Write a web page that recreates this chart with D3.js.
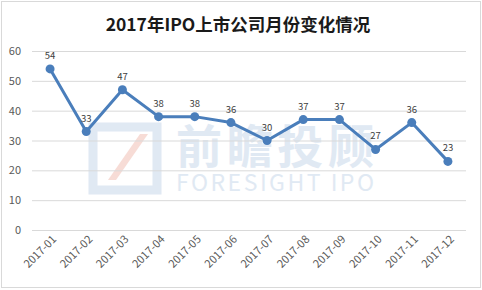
<!DOCTYPE html>
<html lang="zh">
<head>
<meta charset="UTF-8">
<script src="https://d3js.org/d3.v7.min.js"></script>
<style>
  body { margin: 0; background: #fff; }
  text { font-family: "Noto Sans CJK SC", "Open Sans", sans-serif; }
</style>
</head>
<body>
<svg width="482" height="290"></svg>
<script>
const months = ["2017-01","2017-02","2017-03","2017-04","2017-05","2017-06",
                "2017-07","2017-08","2017-09","2017-10","2017-11","2017-12"];
const counts = [54, 33, 47, 38, 38, 36, 30, 37, 37, 27, 36, 23];
const yTicks = [0, 10, 20, 30, 40, 50, 60];

const svg = d3.select("svg");
const margin = { left: 32, right: 16, top: 51, bottom: 60 };
const width = 482, height = 290;

// chart frame
svg.append("rect")
    .attr("x", 1.5).attr("y", 1.5)
    .attr("width", width - 3).attr("height", height - 4)
    .attr("fill", "#fff").attr("stroke", "#d9d9d9");

const x = d3.scaleBand().domain(months).range([margin.left, width - margin.right]);
const y = d3.scaleLinear().domain([0, 60]).range([height - margin.bottom, margin.top]);

// watermark
const wm = svg.append("g").attr("opacity", 0.85);
wm.append("rect").attr("x", 93).attr("y", 127).attr("width", 64).attr("height", 63)
    .attr("fill", "none").attr("stroke", "#dbe6f2").attr("stroke-width", 9);
wm.append("path").attr("d", "M108,180 L140,134 L148,134 L116,180 Z").attr("fill", "#f6d6cf");
wm.append("text").attr("x", 176).attr("y", 163).attr("font-size", 46).attr("font-weight", "bold")
    .attr("fill", "#dbe6f2").attr("textLength", 198).text("前瞻投顾");
wm.append("text").attr("x", 176).attr("y", 191).attr("font-size", 23)
    .attr("fill", "#dbe6f2").attr("textLength", 198).text("FORESIGHT  IPO");

// gridlines
svg.append("g").selectAll("line").data(yTicks).join("line")
    .attr("x1", margin.left).attr("x2", width - margin.right)
    .attr("y1", d => y(d) + 0.5).attr("y2", d => y(d) + 0.5)
    .attr("stroke", "#d9d9d9");

// y axis labels
svg.append("g").selectAll("text").data(yTicks).join("text")
    .attr("x", 21).attr("y", d => y(d) + 4)
    .attr("text-anchor", "end").attr("font-size", 11).attr("fill", "#595959")
    .text(d => d);

// x axis labels
svg.append("g").selectAll("text").data(months).join("text")
    .attr("transform", d => `translate(${x(d) + x.bandwidth() / 2 + 7},${y(0) + 10}) rotate(-45)`)
    .attr("text-anchor", "end").attr("font-size", 11).attr("fill", "#595959")
    .text(d => d);

const cx = (d, i) => x(months[i]) + x.bandwidth() / 2;

svg.append("path").datum(counts)
    .attr("fill", "none").attr("stroke", "#4a7ebb").attr("stroke-width", 3)
    .attr("stroke-linejoin", "round")
    .attr("d", d3.line().x(cx).y(d => y(d)));

svg.append("g").selectAll("circle").data(counts).join("circle")
    .attr("cx", cx).attr("cy", d => y(d)).attr("r", 4.5)
    .attr("fill", "#4a7ebb");

svg.append("g").selectAll("text").data(counts).join("text")
    .attr("x", cx).attr("y", d => y(d) - 10)
    .attr("text-anchor", "middle").attr("font-size", 9.5).attr("fill", "#404040")
    .text(d => d);

// title
svg.append("text").attr("x", 238).attr("y", 31)
    .attr("text-anchor", "middle").attr("font-size", 17.5).attr("font-weight", "bold")
    .attr("fill", "#1a1a1a").text("2017年IPO上市公司月份变化情况");
</script>
</body>
</html>
